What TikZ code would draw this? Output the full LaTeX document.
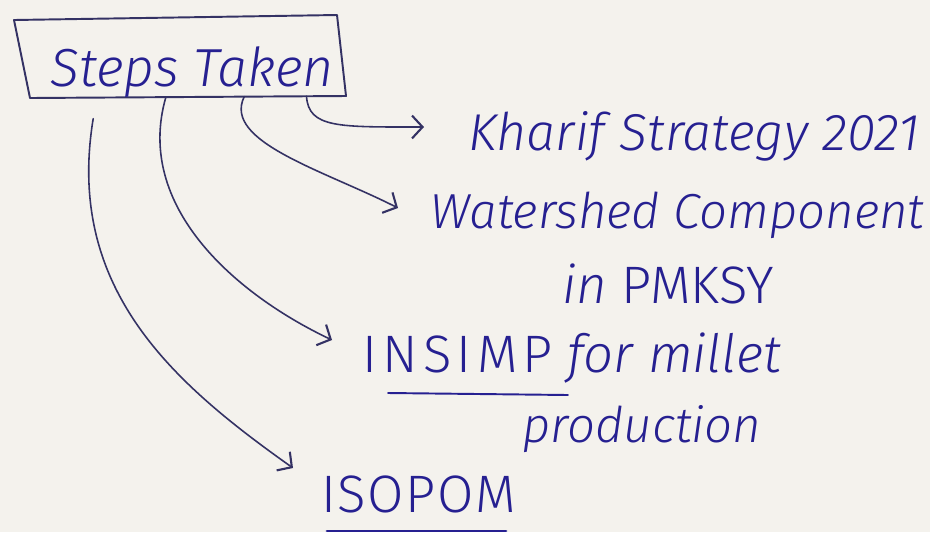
\documentclass[tikz,border=0pt]{standalone}
\usepackage{fontspec}
\setmainfont{Fira Sans Light}[ItalicFont={Fira Sans Light Italic}]
\usetikzlibrary{arrows.meta,calc}
\definecolor{paper}{RGB}{244,242,237}
\definecolor{ink}{RGB}{38,32,145}
\definecolor{lead}{RGB}{52,50,100}

\begin{document}
\begin{tikzpicture}[x=0.02cm,y=-0.02cm,
  hand/.style={text=ink, inner sep=0pt, anchor=base west,
    font=\fontsize{28}{30}\selectfont},
  pen/.style={draw=ink, line width=1.1pt, line cap=round, line join=round},
  conn/.style={draw=lead, line width=0.9pt, line cap=round,
    -{Straight Barb[length=6pt,width=13pt,line width=1.2pt]}},
  ]
% paper
\fill[paper] (0,0) rectangle (930,532);
\useasboundingbox (0,0) rectangle (930,532);

% title box, drawn freehand with slightly skewed corners
\coordinate (btl) at (14,20);
\coordinate (btr) at (337,15);
\coordinate (bbr) at (346,96);
\coordinate (bbl) at (30,98);
\draw[pen, draw=lead] (btl) -- (btr) -- (bbr) -- (bbl) -- cycle;
\node[hand, font=\fontsize{30.5}{32}\selectfont\itshape] (steps) at (50,86) {Steps Taken};

% items
\node[hand, font=\fontsize{29.5}{31}\selectfont\itshape] (kharif) at (468,150) {Kharif Strategy 2021};
\node[hand, font=\fontsize{28}{30}\selectfont\itshape] (water) at (430,228) {Watershed Component};
\node[hand, font=\fontsize{30}{32}\selectfont] (pmksy) at (562,303) {{\itshape in} PMKSY};
\node[hand, font=\fontsize{30}{32}\selectfont] (insimp) at (362,372)
  {{\addfontfeature{LetterSpace=10}INSIMP} {\itshape for millet}};
\node[hand, font=\fontsize{28}{30}\selectfont\itshape] (prod) at (522,442) {production};
\node[hand, font=\fontsize{30}{32}\selectfont\addfontfeature{LetterSpace=3}] (isopom) at (321,512) {ISOPOM};

% underlines
\draw[pen] ([shift={(26,21)}]insimp.base west) -- ([shift={(206,23)}]insimp.base west);
\draw[pen, line width=1.6pt] ([shift={(6,19)}]isopom.base west) -- ([shift={(185,19)}]isopom.base west);

% connectors from the bottom edge of the box
\draw[conn] ($(bbl)!0.875!(bbr)$) .. controls +(2,32) and +(-85,0) .. ([shift={(-44,-23)}]kharif.base west);
\draw[conn] ($(bbl)!0.678!(bbr)$) .. controls +(-22,45) and +(-75,-38) .. ([shift={(-32,-20)}]water.base west);
\draw[conn] ($(bbl)!0.43!(bbr)$) .. controls +(-32,110) and +(-95,-45) .. ([shift={(-30,-32)}]insimp.base west);
\draw[conn] ([yshift=-12]$(bbl)!0.2!(bbr)$) .. controls +(-28,170) and +(-120,-85) .. ([shift={(-28,-44)}]isopom.base west);
\end{tikzpicture}
\end{document}
